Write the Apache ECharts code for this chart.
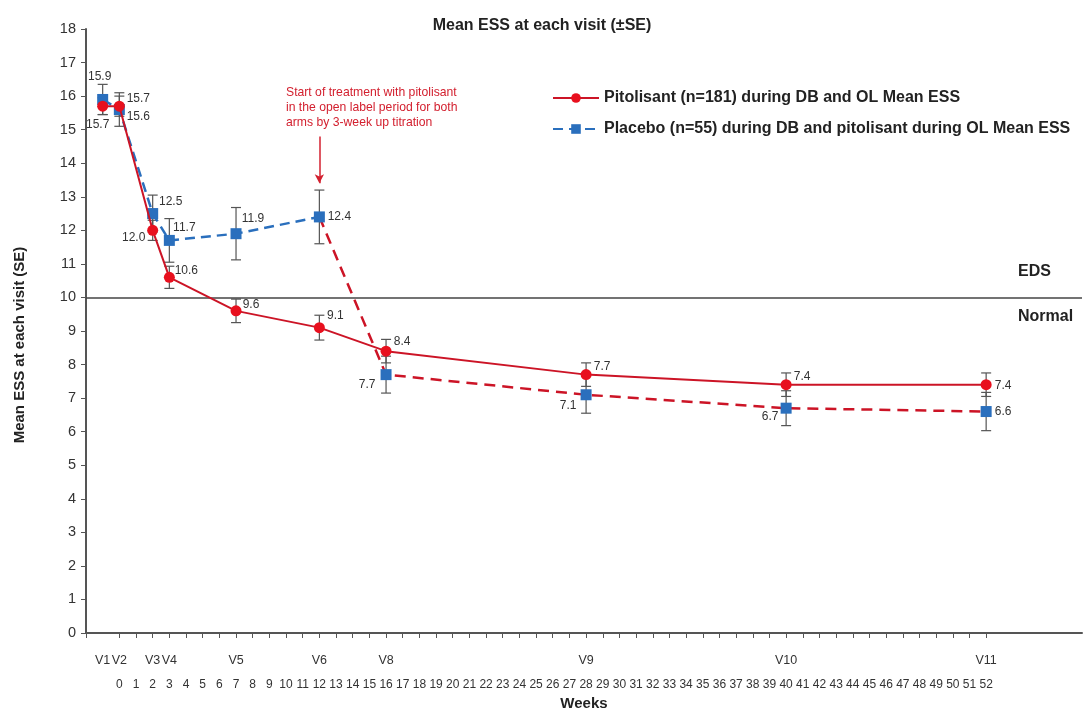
<!DOCTYPE html>
<html>
<head>
<meta charset="utf-8">
<script src="https://cdn.jsdelivr.net/npm/echarts@6/dist/echarts.min.js"></script>
<style>
html,body{margin:0;padding:0;background:#fff;}
#chart{width:1084px;height:710px;}
</style>
</head>
<body>
<div id="chart"></div>
<script>
// ---- data ----
const visits = ['V1','V2','V3','V4','V5','V6','V8','V9','V10','V11'];
const visitWeeks = [-1, 0, 2, 3, 7, 12, 16, 28, 40, 52];
const pitolisantMean = [15.7, 15.7, 12.0, 10.6, 9.6, 9.1, 8.4, 7.7, 7.4, 7.4];
const pitolisantSE   = [0.25, 0.3, 0.3, 0.33, 0.35, 0.37, 0.35, 0.35, 0.35, 0.35];
const placeboMean = [15.9, 15.6, 12.5, 11.7, 11.9, 12.4, 7.7, 7.1, 6.7, 6.6];
const placeboSE   = [0.45, 0.5, 0.55, 0.65, 0.78, 0.8, 0.55, 0.55, 0.52, 0.57];
const weekTicks = [-2].concat(Array.from({length:53}, (_, i) => i));
const weekLabels = Array.from({length:53}, (_, i) => i);
const yTicks = { min: 0, max: 18, interval: 1 };
const edsThreshold = 10;
const switchIndex = 5; // V6: start of open label period

// ---- styles (label placement) ----
const redLabelOffset = [[-5,19],[19,-7],[-19,7],[17,-7],[15,-6],[16,-12],[16,-9],[16,-8],[16,-8],[17,1]];
const bluLabelOffset = [[-3,-23],[19,7],[18,-12],[15,-13],[17,-15],[20,0],[-19,10],[-18,11],[-16,9],[17,0]];

const RED_LINE = '#cc1426';
const RED_MK = '#e8101e';
const BLUE = '#2a6fbd';
const GRAY = '#555';
const FONT = "'Liberation Sans', Arial, sans-serif";

const nameP = 'Pitolisant (n=181) during DB and OL Mean ESS';
const nameB = 'Placebo (n=55) during DB and pitolisant during OL Mean ESS';

function pts(means, offsets, idx) {
  return idx.map(i => ({
    value: [visitWeeks[i], means[i]],
    label: { offset: offsets[i] }
  }));
}
const allIdx = visitWeeks.map((_, i) => i);
const dbIdx = allIdx.filter(i => i <= switchIndex);
const olIdx = allIdx.filter(i => i > switchIndex);
const olLineIdx = allIdx.filter(i => i >= switchIndex);

const labelBase = {
  show: true, position: 'inside', formatter: p => p.value[1].toFixed(1),
  color: '#333', fontSize: 12, fontFamily: FONT
};

function errData(means, se) {
  return visitWeeks.map((w, i) => [w, means[i] - se[i], means[i] + se[i]]);
}
function errRender(params, api) {
  const x = api.value(0), lo = api.value(1), hi = api.value(2);
  const a = api.coord([x, hi]), b = api.coord([x, lo]);
  const w = 5;
  const st = { stroke: GRAY, lineWidth: 1.2 };
  return {
    type: 'group',
    children: [
      { type: 'line', shape: { x1: a[0], y1: a[1], x2: b[0], y2: b[1] }, style: st },
      { type: 'line', shape: { x1: a[0]-w, y1: a[1], x2: a[0]+w, y2: a[1] }, style: st },
      { type: 'line', shape: { x1: b[0]-w, y1: b[1], x2: b[0]+w, y2: b[1] }, style: st }
    ]
  };
}

const chart = echarts.init(document.getElementById('chart'));
const option = {
  backgroundColor: '#fff',
  animation: false,
  textStyle: { fontFamily: FONT },
  title: {
    text: 'Mean ESS at each visit (±SE)', left: 'center', top: 13,
    textStyle: { fontSize: 16, fontWeight: 'bold', color: '#222', fontFamily: FONT }
  },
  legend: {
    orient: 'vertical', left: 547, top: 85,
    itemWidth: 46, itemHeight: 12, itemGap: 15,
    data: [nameP, nameB],
    textStyle: { fontSize: 16, fontWeight: 'bold', color: '#222', fontFamily: FONT }
  },
  grid: { left: 86, right: 2, top: 29, bottom: 77, containLabel: false, outerBoundsMode: 'none' },
  xAxis: [{
    type: 'value', min: -2, max: 57.75,
    name: 'Weeks', nameLocation: 'middle', nameGap: 63,
    nameTextStyle: { fontSize: 15, fontWeight: 'bold', color: '#222', fontFamily: FONT },
    axisLine: { show: true, onZero: false, lineStyle: { color: GRAY, width: 2 } },
    axisTick: { show: true, customValues: weekTicks, length: 5, lineStyle: { color: GRAY, width: 1 } },
    axisLabel: { customValues: weekLabels, margin: 46, fontSize: 12, color: '#333', fontFamily: FONT },
    splitLine: { show: false }
  }, {
    type: 'value', min: -2, max: 57.75, position: 'bottom',
    axisLine: { show: false, onZero: false }, axisTick: { show: false },
    axisLabel: {
      customValues: visitWeeks, margin: 21, fontSize: 12.5, color: '#333', fontFamily: FONT,
      formatter: v => visits[visitWeeks.indexOf(v)]
    },
    splitLine: { show: false }
  }],
  yAxis: {
    type: 'value', min: yTicks.min, max: yTicks.max, interval: yTicks.interval,
    axisLine: { show: true, onZero: false, lineStyle: { color: GRAY, width: 2 } },
    axisTick: { show: true, length: 5, lineStyle: { color: GRAY } },
    axisLabel: { fontSize: 14.5, color: '#333', margin: 10, fontFamily: FONT },
    splitLine: { show: false }
  },
  graphic: [
    { type: 'text', x: 20, y: 345, rotation: Math.PI / 2, style: {
        text: 'Mean ESS at each visit (SE)', align: 'center', verticalAlign: 'middle',
        fill: '#222', fontSize: 15, fontWeight: 'bold', fontFamily: FONT } },
    { type: 'text', left: 286, top: 85, style: {
        text: 'Start of treatment with pitolisant\nin the open label period for both\narms by 3-week up titration',
        fill: '#d3202f', fontSize: 12.2, lineHeight: 15, fontFamily: FONT } },
    { type: 'text', left: 1018, top: 264, style: { text: 'EDS', fill: '#222', fontSize: 16, fontWeight: 'bold', fontFamily: FONT } },
    { type: 'text', left: 1018, top: 309, style: { text: 'Normal', fill: '#222', fontSize: 16, fontWeight: 'bold', fontFamily: FONT } }
  ],
  series: [
    {
      name: '_err_p', type: 'custom', renderItem: errRender, data: errData(pitolisantMean, pitolisantSE),
      encode: { x: 0, y: [1, 2] }, z: 2, silent: true
    },
    {
      name: '_err_b', type: 'custom', renderItem: errRender, data: errData(placeboMean, placeboSE),
      encode: { x: 0, y: [1, 2] }, z: 2, silent: true
    },
    {
      name: '_ol', type: 'line', data: pts(placeboMean, bluLabelOffset, olLineIdx).map(d => d.value),
      showSymbol: false, symbol: 'none', z: 3,
      lineStyle: { color: RED_LINE, width: 2.5, type: [11, 7] },
      markLine: {
        silent: true, symbol: ['none', 'none'], animation: false,
        label: { show: false },
        data: [
          { yAxis: edsThreshold, lineStyle: { color: '#444', width: 1.5, type: 'solid' } },
          [
            { coord: [visitWeeks[switchIndex], 14.8], symbol: 'none', lineStyle: { color: '#d3202f', width: 1.5, type: 'solid' } },
            { coord: [visitWeeks[switchIndex], 13.4], symbol: 'arrow', symbolSize: [7, 9] }
          ]
        ]
      }
    },
    {
      name: nameB, type: 'line', data: pts(placeboMean, bluLabelOffset, dbIdx),
      symbol: 'rect', symbolSize: 11, z: 4,
      itemStyle: { color: BLUE },
      lineStyle: { color: BLUE, width: 2.5, type: [10, 6] },
      label: labelBase
    },
    {
      name: nameB, type: 'line', data: pts(placeboMean, bluLabelOffset, olIdx),
      symbol: 'rect', symbolSize: 11, z: 4,
      itemStyle: { color: BLUE },
      lineStyle: { width: 0, opacity: 0 },
      label: labelBase
    },
    {
      name: nameP, type: 'line', data: pts(pitolisantMean, redLabelOffset, allIdx),
      symbol: 'circle', symbolSize: 11, z: 5,
      itemStyle: { color: RED_MK },
      lineStyle: { color: RED_LINE, width: 2 },
      label: labelBase
    }
  ]
};
chart.setOption(option);
</script>
</body>
</html>
